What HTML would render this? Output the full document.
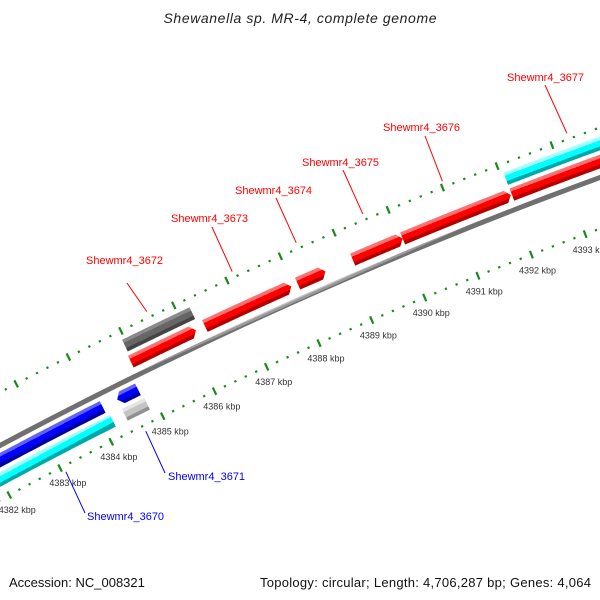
<!DOCTYPE html>
<html><head><meta charset="utf-8"><style>
body{margin:0;background:#fff}
svg{display:block;font-family:"Liberation Sans",sans-serif}
</style></head><body>
<svg id="map" width="600" height="600" viewBox="0 0 600 600">
<defs id="defs"></defs>
<text x="300" y="23" text-anchor="middle" font-style="italic" font-size="14" textLength="273" fill="#222">Shewanella sp. MR-4, complete genome</text>
<g id="marks"></g>
<text x="9" y="587" font-size="13" fill="#111">Accession: NC_008321</text>
<text x="591" y="587" text-anchor="end" font-size="13" fill="#111" textLength="331">Topology: circular; Length: 4,706,287 bp; Genes: 4,064</text>
</svg>
<script>
// data
const featNames = ["Shewmr4_3670","cyan-lower","Shewmr4_3671","gray-light","gray-dark","Shewmr4_3672","Shewmr4_3673","Shewmr4_3674","Shewmr4_3675","Shewmr4_3676","Shewmr4_3677","cyan-upper"];
const featStart = [4381.98,4380.0,4384.42,4384.42,4384.95,4384.92,4386.33,4388.08,4389.11,4390.04,4392.06,4392.06];
const featEnd   = [4384.14,4384.19,4384.82,4384.85,4386.23,4386.16,4387.96,4388.60,4390.04,4392.04,4394.56,4396.0];
const featTrack = ["rev","revOuter","rev","revOuter","fwdOuter","fwd","fwd","fwd","fwd","fwd","fwd","fwdOuter"];
const featColor = ["blue","cyan","blue","lightgray","darkgray","red","red","red","red","red","red","cyan"];
const featArrow = ["start","none","start","none","none","end","end","end","end","end","end","none"];
const tickKbp = [4380,4381,4382,4383,4384,4385,4386,4387,4388,4389,4390,4391,4392,4393,4394,4395];
const tickLabels = ["4380 kbp","4381 kbp","4382 kbp","4383 kbp","4384 kbp","4385 kbp","4386 kbp","4387 kbp","4388 kbp","4389 kbp","4390 kbp","4391 kbp","4392 kbp","4393 kbp","4394 kbp","4395 kbp"];
const labeledFeatures = [0,2,5,6,7,8,9,10];

// geometry
const CX=2226, CY=4623.5, R0=4734;
function pt(k,r){const p=(-25.42+0.7033*(k-4386))*Math.PI/180;const R=R0+r;return [CX+R*Math.sin(p),CY-R*Math.cos(p)];}
const trackR={fwd:15,fwdOuter:32,rev:-13,revOuter:-30};
const palette={red:["#ff7070","#ff0000","#b00000"],blue:["#6060ff","#0000ff","#0000a0"],cyan:["#a0ffff","#00ffff","#00a8a8"],darkgray:["#8a8a8a","#666666","#444444"],lightgray:["#e4e4e4","#c4c4c4","#909090"]};
const NS="http://www.w3.org/2000/svg";
const layer=document.getElementById('marks'), defs=document.getElementById('defs');
function mk(tag,attrs,parent){const e=document.createElementNS(NS,tag);for(const a in attrs)e.setAttribute(a,attrs[a]);(parent||layer).appendChild(e);return e;}
function grad(id,k,r,h,cols){
  const a=pt(k,r+h/2),b=pt(k,r-h/2);
  const g=mk('linearGradient',{id:id,gradientUnits:'userSpaceOnUse',x1:a[0],y1:a[1],x2:b[0],y2:b[1]},defs);
  [[0,cols[0]],[0.28,cols[0]],[0.28,cols[1]],[0.72,cols[1]],[0.72,cols[2]],[1,cols[2]]].forEach(s=>mk('stop',{offset:s[0],'stop-color':s[1]},g));
}
function arcPts(k1,k2,r){const n=40,out=[];for(let i=0;i<=n;i++){out.push(pt(k1+(k2-k1)*i/n,r));}return out;}
function barPath(k1,k2,r,h,arrow){
  const head=0.09, a=r+h/2, b=r-h/2;
  let s=k1,e=k2; if(arrow==='end')e=k2-head; if(arrow==='start')s=k1+head;
  let p=arcPts(s,e,a);
  if(arrow==='end')p.push(pt(k2,r));
  p=p.concat(arcPts(s,e,b).reverse());
  if(arrow==='start')p.push(pt(k1,r));
  return 'M'+p.map(q=>q[0].toFixed(2)+','+q[1].toFixed(2)).join('L')+'Z';
}

// backbone
grad('gbb',4388,0,5,["#c0c0c0","#9a9a9a","#707070"]);
const bb=mk('path',{d:barPath(4379,4396,0,5,'none'),fill:'url(#gbb)'});



// ticks
const rowR=[47,-48];
rowR.forEach((rr,ri)=>{
  for(let i=0;i<tickKbp.length-1;i++){
    for(let j=0;j<5;j++){
      const k=tickKbp[i]+j*0.2;
      const major=j===0;
      const L=major?4:1.1;
      const a=pt(k,rr+L),b=pt(k,rr-L);
      const t=mk('line',{x1:a[0],y1:a[1],x2:b[0],y2:b[1],stroke:'#178a17','stroke-width':major?2.2:2.2});
      
      
    }
  }
});
tickKbp.forEach((k,i)=>{
  const p=pt(k,-65);
  const t=mk('text',{x:p[0],y:p[1]+3,'text-anchor':'middle','font-size':9,fill:'#333'});
  t.textContent=tickLabels[i];
  
  
});

// features
featStart.forEach((s,i)=>{
  const r=trackR[featTrack[i]], h=13;
  grad('gf'+i,(s+Math.min(featEnd[i],4394))/2,r,h,palette[featColor[i]]);
  const f=mk('path',{d:barPath(s,featEnd[i],r,h,featArrow[i]),fill:'url(#gf'+i+')'});
  
  
});

// labels (layout positions)
const labelPos={0:[87,520,85,513,66,473],2:[168,480,165,473,145,432],5:[86,264,127,283,0,0],6:[171,222,212,227,0,0],7:[235,194,276,198,0,0],8:[302,166,343,170,0,0],9:[383,131,425,136,0,0],10:[507,81,545,85,0,0]};
labeledFeatures.forEach(i=>{
  const lp=labelPos[i];
  const rev=featTrack[i].startsWith('rev');
  const mid=(featStart[i]+featEnd[i])/2;
  const end=pt(mid,rev?-54:53);
  const col=rev?'#0000ff':'#ff0000';
  const ln=mk('line',{x1:lp[2],y1:lp[3],x2:end[0],y2:end[1],stroke:col,'stroke-width':1});
  
  
  const t=mk('text',{x:lp[0],y:lp[1],'font-size':11,fill:col});
  t.textContent=featNames[i];
  
  
});
</script>
</body></html>
